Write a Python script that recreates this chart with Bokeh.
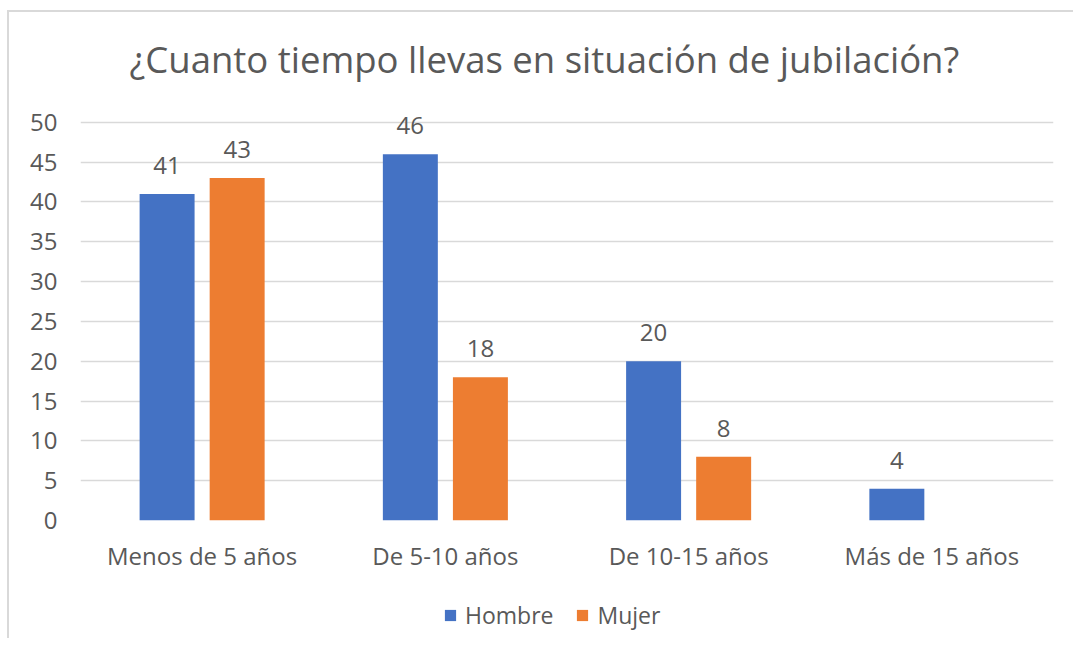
from bokeh.plotting import figure
from bokeh.models import FactorRange, Range1d, Legend, LegendItem, ColumnDataSource, FixedTicker
from bokeh.layouts import column
from bokeh.transform import dodge
from bokeh.embed import file_html
from bokeh.resources import INLINE
from bokeh.core.properties import value

categories = ["Menos de 5 años", "De 5-10 años", "De 10-15 años", "Más de 15 años"]
series_names = ["Hombre", "Mujer"]
hombre = [41, 46, 20, 4]
mujer = [43, 18, 8, None]
y_ticks = [0, 5, 10, 15, 20, 25, 30, 35, 40, 45, 50]
title_text = "¿Cuanto tiempo llevas en situación de jubilación?"

FONT = "Open Sans"
TXT = "#595959"
BLUE = "#4472C4"
ORANGE = "#ED7D31"
OFF = 0.144
BW = 0.226
W = 1064
MBL = 71
MBR = 20

p = figure(x_range=FactorRange(*categories, range_padding=0), y_range=Range1d(0, 54),
           width=W, height=568, output_backend="svg", toolbar_location=None,
           min_border_left=MBL, min_border_right=MBR, min_border_top=78, min_border_bottom=60)
p.outline_line_color = None
p.background_fill_color = "white"
p.border_fill_color = "white"

p.title.text = title_text
p.title.align = "left"
p.title.offset = 49
p.title.text_font = FONT
p.title.text_font_size = "36.5px"
p.title.text_font_style = "normal"
p.title.text_color = TXT
p.title.standoff = 14

p.xgrid.grid_line_color = None
p.ygrid.grid_line_color = "#d9d9d9"
p.ygrid.grid_line_width = 1.5
p.yaxis.ticker = FixedTicker(ticks=y_ticks)

for ax in (p.xaxis, p.yaxis):
    ax.axis_line_color = None
    ax.major_tick_line_color = None
    ax.minor_tick_line_color = None
    ax.major_label_text_font = FONT
    ax.major_label_text_font_size = "24px"
    ax.major_label_text_color = TXT
p.yaxis.major_label_standoff = 17
p.xaxis.major_label_standoff = 12

vals_m = [v if v is not None else float("nan") for v in mujer]
src = ColumnDataSource(dict(cat=categories, hombre=hombre, mujer=vals_m))
r1 = p.vbar(x=dodge("cat", -OFF, range=p.x_range), top="hombre", width=BW, source=src,
            fill_color=BLUE, line_color=None)
r2 = p.vbar(x=dodge("cat", OFF, range=p.x_range), top="mujer", width=BW, source=src,
            fill_color=ORANGE, line_color=None)

for vals, off in ((hombre, -OFF), (mujer, OFF)):
    cats = [c for c, v in zip(categories, vals) if v is not None]
    ys = [v for v in vals if v is not None]
    ls = ColumnDataSource(dict(cat=cats, y=ys, t=[str(v) for v in ys]))
    p.text(x=dodge("cat", off, range=p.x_range), y="y", text="t", source=ls,
           text_font=value(FONT), text_font_size="24px", text_color=TXT,
           text_align="center", text_baseline="bottom", y_offset=-20)

# legend strip below the chart
lf = figure(width=W, height=58, output_backend="svg", toolbar_location=None,
            x_range=Range1d(0, 1), y_range=Range1d(0, 1),
            min_border_left=MBL, min_border_right=MBR, min_border_top=0, min_border_bottom=0)
lf.axis.visible = False
lf.grid.visible = False
lf.outline_line_color = None
lf.background_fill_color = "white"
lf.border_fill_color = "white"
d1 = lf.vbar(x=[0.5], top=[0], bottom=[0], width=0.0, fill_color=BLUE, line_color=None)
d2 = lf.vbar(x=[0.5], top=[0], bottom=[0], width=0.0, fill_color=ORANGE, line_color=None)
legend = Legend(items=[LegendItem(label=series_names[0], renderers=[d1]),
                       LegendItem(label=series_names[1], renderers=[d2])],
                orientation="horizontal", location=(363, 7),
                border_line_color=None, background_fill_alpha=0, padding=0, margin=0,
                glyph_width=14, glyph_height=14, label_standoff=8, spacing=22,
                label_text_font=FONT, label_text_font_size="23px", label_text_color=TXT)
lf.add_layout(legend, "center")

layout = column(p, lf, spacing=0, margin=(10, 0, 0, 7),
                styles={"border-top": "2px solid #d9d9d9", "border-left": "2px solid #d9d9d9"})
open("out.html", "w").write(file_html(layout, INLINE))
